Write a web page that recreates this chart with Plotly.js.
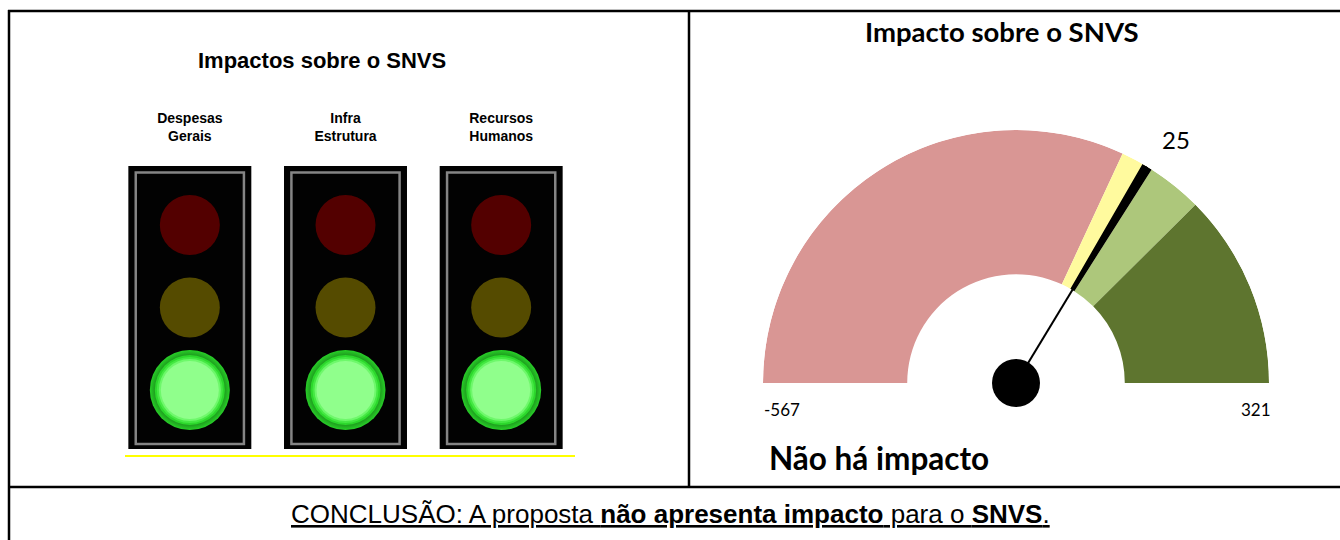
<!DOCTYPE html>
<html><head><meta charset="utf-8">
<script src="https://cdn.plot.ly/plotly-3.0.1.min.js"></script>
<style>html,body{margin:0;padding:0;background:#fff}#chart{width:1340px;height:540px}</style>
</head><body><div id="chart"></div>
<script>
// ---------- data: traffic lights ----------
const categories = ["Despesas<br>Gerais", "Infra<br>Estrutura", "Recursos<br>Humanos"];
const categoryStatus = ["verde", "verde", "verde"];
const lightNames = ["vermelho", "amarelo", "verde"];
const lightLevels = [3, 2, 1];

// ---------- data: gauge ----------
const gaugeMin = -567;
const gaugeMax = 321;
const gaugeValue = 25;
const bandLimits = [-567, 0, 37, 100, 321];
const verdict = "Não há impacto";
const leftTitle = "Impactos sobre o SNVS";
const gaugeTitle = "Impacto sobre o SNVS";

// ---------- styles ----------
const offColors = {vermelho: "#530000", amarelo: "#554b00", verde: "#0b3a0b"};
const bandColors = ["#D99694", "#FFFA9E", "#ADC77B", "#5E752F"];
const holeFrac = 0.43;
const needleWidth = 12;
const B = "Liberation Sans, Arial, sans-serif";
const C = "Lato, Open Sans, sans-serif";

// ---------- traffic-light traces ----------
const yPad = 0.215;
const yRange = [0.5 - yPad, lightLevels.length + 0.5 + yPad];
const traces = [];
traces.push({type: "bar", x: categories, y: categories.map(() => yRange[1] - yRange[0]),
  base: categories.map(() => yRange[0]), width: 0.79,
  marker: {color: "#020202", line: {width: 0}}, xaxis: "x", yaxis: "y", hoverinfo: "skip"});
const fIn = 0.06;
traces.push({type: "bar", x: categories, y: categories.map(() => yRange[1] - yRange[0] - 2 * fIn - 0.02),
  base: categories.map(() => yRange[0] + fIn), width: 0.695,
  marker: {color: "rgba(0,0,0,0)", line: {width: 2.5, color: "#858585"}}, xaxis: "x", yaxis: "y", hoverinfo: "skip"});

const offX = [], offY = [], offC = [], onX = [], onY = [];
categories.forEach((c, i) => {
  lightNames.forEach((ln, j) => {
    if (categoryStatus[i] === ln) { onX.push(c); onY.push(lightLevels[j]); }
    else { offX.push(c); offY.push(lightLevels[j]); offC.push(offColors[ln]); }
  });
});
const mk = (size, color, extra) => Object.assign({type: "scatter", mode: "markers", x: onX, y: onY, xaxis: "x", yaxis: "y",
  marker: Object.assign({size: size, color: color, line: {width: 0}}, extra || {}), hoverinfo: "skip", cliponaxis: false});
traces.push({type: "scatter", mode: "markers", x: offX, y: offY, xaxis: "x", yaxis: "y",
  marker: {size: 60, color: offC, line: {width: 0}}, hoverinfo: "skip", cliponaxis: false});
traces.push(mk(80, "#28d028", {gradient: {type: "radial", color: "rgba(0,0,0,0)"}}));
traces.push(mk(70, "#2cd82c"));
traces.push(mk(66, "#45e843"));
traces.push(mk(62, "#6ef86b"));
traces.push(mk(58, "#90ff8c"));

// ---------- gauge traces ----------
const span = gaugeMax - gaugeMin;
const toDeg = v => (v - gaugeMin) / span * 180;
const bTheta = [], bWidth = [];
for (let k = 0; k < bandLimits.length - 1; k++) {
  bTheta.push(toDeg((bandLimits[k] + bandLimits[k + 1]) / 2));
  bWidth.push(toDeg(bandLimits[k + 1]) - toDeg(bandLimits[k]));
}
traces.push({type: "barpolar", subplot: "polar", theta: bTheta, width: bWidth,
  r: bTheta.map(() => 1 - holeFrac), base: bTheta.map(() => holeFrac),
  marker: {color: bandColors, line: {width: 0}}, hoverinfo: "skip"});
const needleMid = gaugeValue + needleWidth / 2;
traces.push({type: "barpolar", subplot: "polar", theta: [toDeg(needleMid)], width: [toDeg(gaugeValue + needleWidth) - toDeg(gaugeValue)],
  r: [1 - holeFrac], base: [holeFrac], marker: {color: "#000", line: {width: 0}}, hoverinfo: "skip"});
traces.push({type: "scatterpolar", subplot: "polar", mode: "lines", r: [0, 1], theta: [toDeg(needleMid), toDeg(needleMid)],
  line: {color: "#000", width: 2}, hoverinfo: "skip", cliponaxis: false});
traces.push({type: "scatterpolar", subplot: "polar", mode: "markers", r: [0], theta: [toDeg(needleMid)],
  marker: {size: 48, color: "#000"}, hoverinfo: "skip", cliponaxis: false});

// ---------- layout ----------
const W = 1340, H = 540;
const px = x => x / W, py = y => (H - y) / H;
const line = (x0, y0, x1, y1, color, w) => ({type: "line", xref: "paper", yref: "paper",
  x0: px(x0), y0: py(y0), x1: px(x1), y1: py(y1), line: {color: color, width: w}});
const ann = (text, x, y, xanchor, font) => ({text: text, x: px(x), y: py(y), xref: "paper", yref: "paper",
  xanchor: xanchor, yanchor: "middle", showarrow: false, font: font});

const layout = {
  width: W, height: H, margin: {l: 0, r: 0, t: 0, b: 0},
  paper_bgcolor: "#fff", plot_bgcolor: "rgba(0,0,0,0)", showlegend: false, hovermode: false,
  barmode: "overlay",
  xaxis: {type: "category", domain: [px(112), px(579)], range: [-0.5, 2.5], side: "top",
    showgrid: false, zeroline: false, showline: false, ticks: "", ticklabelstandoff: 21,
    tickfont: {family: B, size: 14, color: "#000", weight: "bold"}, fixedrange: true},
  yaxis: {domain: [py(449), py(166)], range: yRange, visible: false, fixedrange: true},
  polar: {domain: {x: [px(763), px(1269)], y: [py(383), py(130)]}, sector: [0, 180], hole: 0,
    bgcolor: "rgba(0,0,0,0)",
    radialaxis: {range: [0, 1], visible: false},
    angularaxis: {rotation: 180, direction: "clockwise", visible: false, showgrid: false}},
  shapes: [
    line(125, 456, 575, 456, "#FFFF00", 2),
    line(8, 11, 1340, 11, "#000", 2.5),
    line(9, 10, 9, 540, "#000", 2.5),
    line(689, 11, 689, 487, "#000", 2.5),
    line(8, 487, 1340, 487, "#000", 2.5)
  ],
  annotations: [
    ann("<b>" + leftTitle + "</b>", 322, 61, "center", {family: B, size: 22, color: "#000"}),
    ann("<b>" + gaugeTitle + "</b>", 1002, 31, "center", {family: C, size: 27.5, color: "#000"}),
    ann(String(gaugeValue), 1176, 139, "center", {family: C, size: 24, color: "#000"}),
    ann(String(gaugeMin), 762, 409, "left", {family: C, size: 17, color: "#000"}),
    ann(String(gaugeMax), 1273, 409, "right", {family: C, size: 17, color: "#000"}),
    ann("<b>" + verdict + "</b>", 767, 458, "left", {family: C, size: 31.5, color: "#000"}),
    ann('<span style="text-decoration:underline">CONCLUSÃO: A proposta <b>não apresenta impacto</b> para o <b>SNVS</b>.</span>',
      670, 514, "center", {family: B, size: 26, color: "#000"})
  ]
};

Plotly.newPlot("chart", traces, layout, {staticPlot: true, displayModeBar: false});
</script>
</body></html>
